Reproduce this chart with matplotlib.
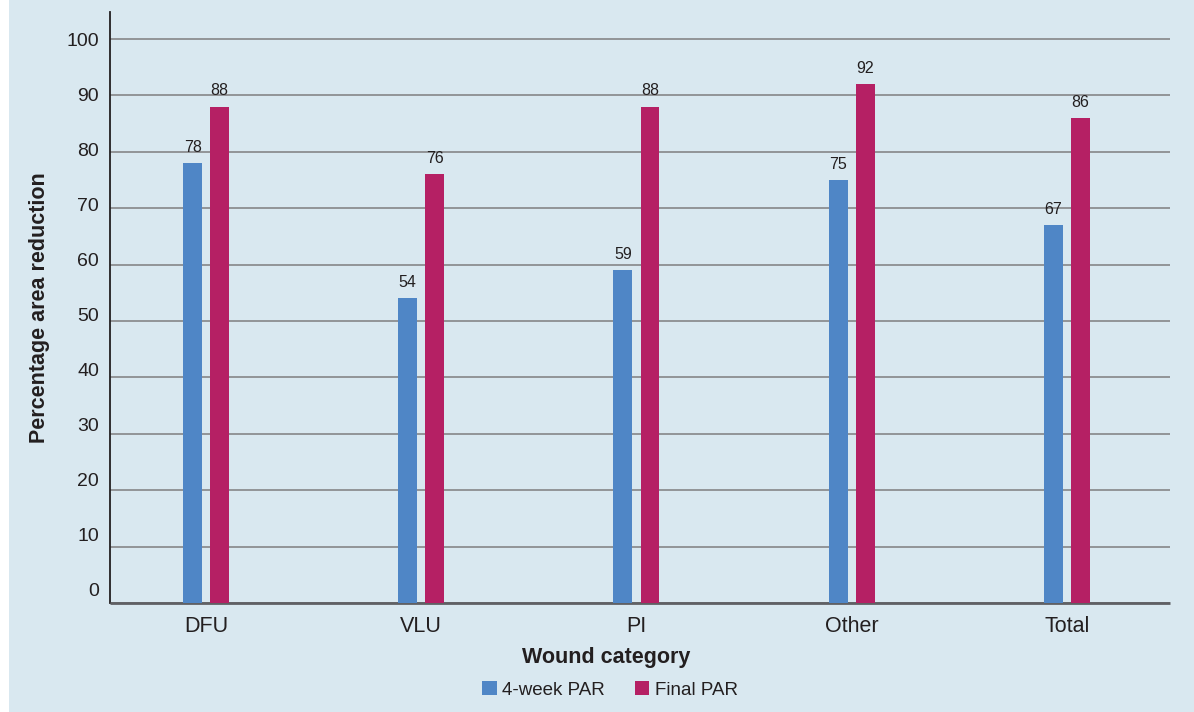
import matplotlib.pyplot as plt
import matplotlib.transforms as mtransforms
import numpy as np

categories = ['DFU', 'VLU', 'PI', 'Other', 'Total']
par_4week = [78, 54, 59, 75, 67]
par_final = [88, 76, 88, 92, 86]
yticks = [0, 10, 20, 30, 40, 50, 60, 70, 80, 90, 100]

bg = '#d9e8f0'
blue = '#4f86c6'
pink = '#b52064'
txt = '#231f20'

plt.rcParams['font.family'] = ['Liberation Sans', 'DejaVu Sans']

fig = plt.figure(figsize=(11.94, 7.12), dpi=100, facecolor='white')
# light blue panel, with a thin white strip on the left
fig.patches.append(plt.Rectangle((9 / 1194, 0), 1 - 9 / 1194, 1, transform=fig.transFigure,
                                 facecolor=bg, edgecolor='none', zorder=-10))

ax = fig.add_axes([110 / 1194, 1 - 603 / 712, 1060 / 1194, 591 / 712])
ax.set_facecolor(bg)

x = np.arange(len(categories))
w = 0.088
off = 0.063
b1 = ax.bar(x - off, par_4week, w, color=blue, label='4-week PAR', zorder=3)
b2 = ax.bar(x + off, par_final, w, color=pink, label='Final PAR', zorder=3)

for bars, vals in ((b1, par_4week), (b2, par_final)):
    for r, v in zip(bars, vals):
        ax.annotate(str(v), (r.get_x() + r.get_width() / 2, r.get_height()),
                    xytext=(0, 6), textcoords='offset points',
                    ha='center', va='bottom', fontsize=11.5, color=txt)

ax.set_xlim(-0.447, 4.48)
ax.set_ylim(0, 104.8)
ax.set_yticks(yticks)
ax.set_xticks(x)
ax.set_xticklabels(categories)
ax.yaxis.grid(True, color='#8c8e90', linewidth=1.3, zorder=0)
ax.set_axisbelow(True)

for s in ['top', 'right']:
    ax.spines[s].set_visible(False)
ax.spines['left'].set_color('#231f20')
ax.spines['left'].set_linewidth(1.3)
ax.spines['bottom'].set_color('#5f6064')
ax.spines['bottom'].set_linewidth(2)
ax.spines['bottom'].set_capstyle('butt')

ax.tick_params(axis='y', length=0, pad=8, labelsize=14, labelcolor=txt)
ax.tick_params(axis='x', length=0, pad=9, labelsize=15.5, labelcolor=txt)
# the original's y labels sit a little above their gridlines, more so near 0
for lab, v in zip(ax.get_yticklabels(), yticks):
    shift = mtransforms.ScaledTranslation(0, (100 - v) / 100 * 14 / 100, fig.dpi_scale_trans)
    lab.set_transform(lab.get_transform() + shift)

ax.set_ylabel('Percentage area reduction', fontsize=15.5, fontweight='bold', color=txt, labelpad=12)
ax.set_xlabel('Wound category', fontsize=15.5, fontweight='bold', color=txt)
ax.xaxis.set_label_coords((606 - 110) / 1060, -0.075)

fig.legend(handles=[b1, b2], loc='center', bbox_to_anchor=(610 / 1194, 1 - 690 / 712),
           ncol=2, frameon=False, fontsize=13.5, handlelength=0.75, handleheight=0.75,
           handletextpad=0.3, columnspacing=1.6, labelcolor=txt)

fig.savefig('out.png', dpi=100, facecolor=fig.get_facecolor())
